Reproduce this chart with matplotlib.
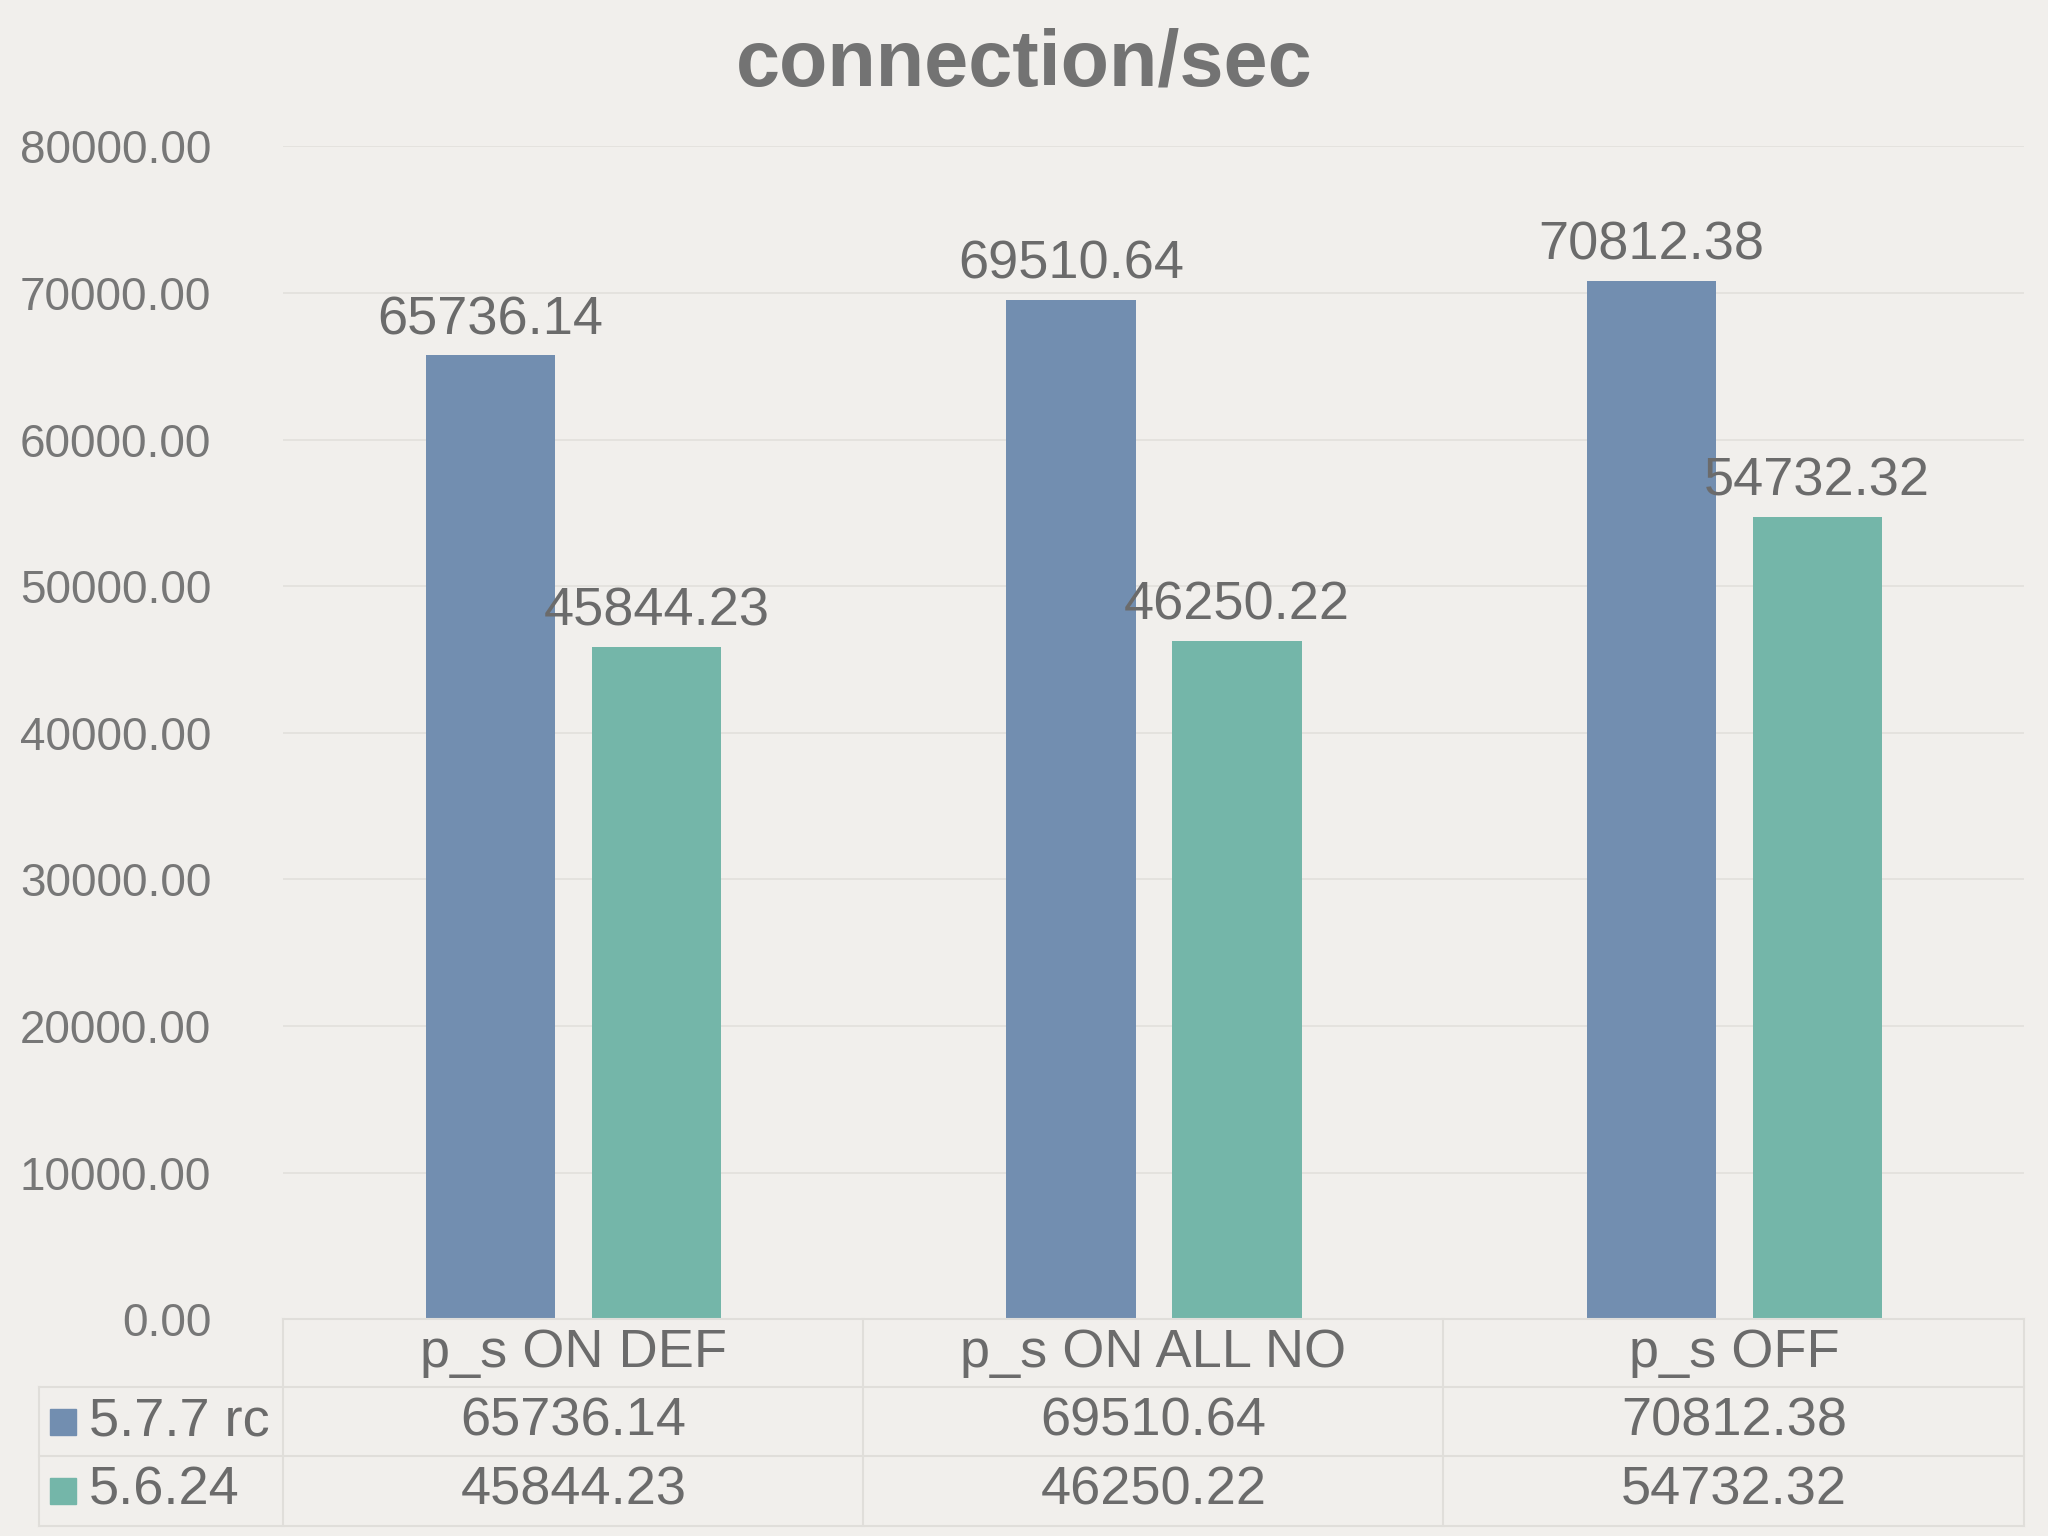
import matplotlib
matplotlib.use("Agg")
import matplotlib.pyplot as plt
from matplotlib.lines import Line2D
from matplotlib.patches import Rectangle

categories = ["p_s ON DEF", "p_s ON ALL NO", "p_s OFF"]
series_names = ["5.7.7 rc", "5.6.24"]
v577 = [65736.14, 69510.64, 70812.38]
v5624 = [45844.23, 46250.22, 54732.32]
yticks = [0, 10000, 20000, 30000, 40000, 50000, 60000, 70000, 80000]

colors = ["#728EB0", "#74B6A9"]
txt = "#6b6b6b"
plt.rcParams['font.family'] = ['Liberation Sans', 'DejaVu Sans']

W, H = 1568, 1176
fig = plt.figure(figsize=(20.48, 15.36), dpi=100, facecolor="#F1EFEC")
def fx(x): return x / W
def fy(y): return 1 - y / H

ax = fig.add_axes([fx(217), fy(1010), fx(1550) - fx(217), fy(112) - fy(1010)])
ax.set_facecolor("none")
ax.set_xlim(-0.5, 2.5)
ax.set_ylim(0, 80000)
bw = 0.223
off = 0.143
for i, (vals, c) in enumerate(zip([v577, v5624], colors)):
    xs = [k + (-off if i == 0 else off) for k in range(len(categories))]
    ax.bar(xs, vals, width=bw, color=c, zorder=3)
    for x, v in zip(xs, vals):
        ax.text(x, v + 700, f"{v:.2f}", ha="center", va="bottom", fontsize=39, color=txt, zorder=4)
ax.set_yticks(yticks)
ax.set_yticklabels([f"{t:.2f}" for t in yticks], fontsize=33, color="#777777")
ax.tick_params(axis="y", length=0, pad=52)
ax.set_xticks([])
ax.grid(axis="y", color="#E2E0DC", linewidth=1.2, zorder=0)
for s in ax.spines.values():
    s.set_visible(False)

fig.text(0.5, fy(50), "connection/sec", ha="center", va="center", fontsize=57,
         fontweight="bold", color="#737373")

# data table
lc = "#E0DEDA"
rows_y = [1010, 1062, 1115, 1168]
cols_x = [217, 661, 1105, 1550]
for y in rows_y:
    x0 = 30 if y != 1010 else 217
    fig.add_artist(Line2D([fx(x0), fx(1550)], [fy(y), fy(y)], color=lc, lw=1.5))
for x in cols_x:
    fig.add_artist(Line2D([fx(x), fx(x)], [fy(1010), fy(1168)], color=lc, lw=1.5))
fig.add_artist(Line2D([fx(30), fx(30)], [fy(1062), fy(1168)], color=lc, lw=1.5))
for k, cat in enumerate(categories):
    cx = (cols_x[k] + cols_x[k + 1]) / 2
    fig.text(fx(cx), fy(1036), cat, ha="center", va="center", fontsize=39, color=txt)
    for r, vals in enumerate([v577, v5624]):
        fig.text(fx(cx), fy((rows_y[r + 1] + rows_y[r + 2]) / 2), f"{vals[k]:.2f}",
                 ha="center", va="center", fontsize=39, color=txt)
for r, (name, c) in enumerate(zip(series_names, colors)):
    yc = (rows_y[r + 1] + rows_y[r + 2]) / 2
    fig.add_artist(Rectangle((fx(38), fy(yc + 10)), fx(20), fy(yc - 10) - fy(yc + 10), color=c))
    fig.text(fx(68), fy(yc), name, ha="left", va="center", fontsize=39, color=txt)

fig.savefig("out.png", dpi=100, facecolor=fig.get_facecolor())
